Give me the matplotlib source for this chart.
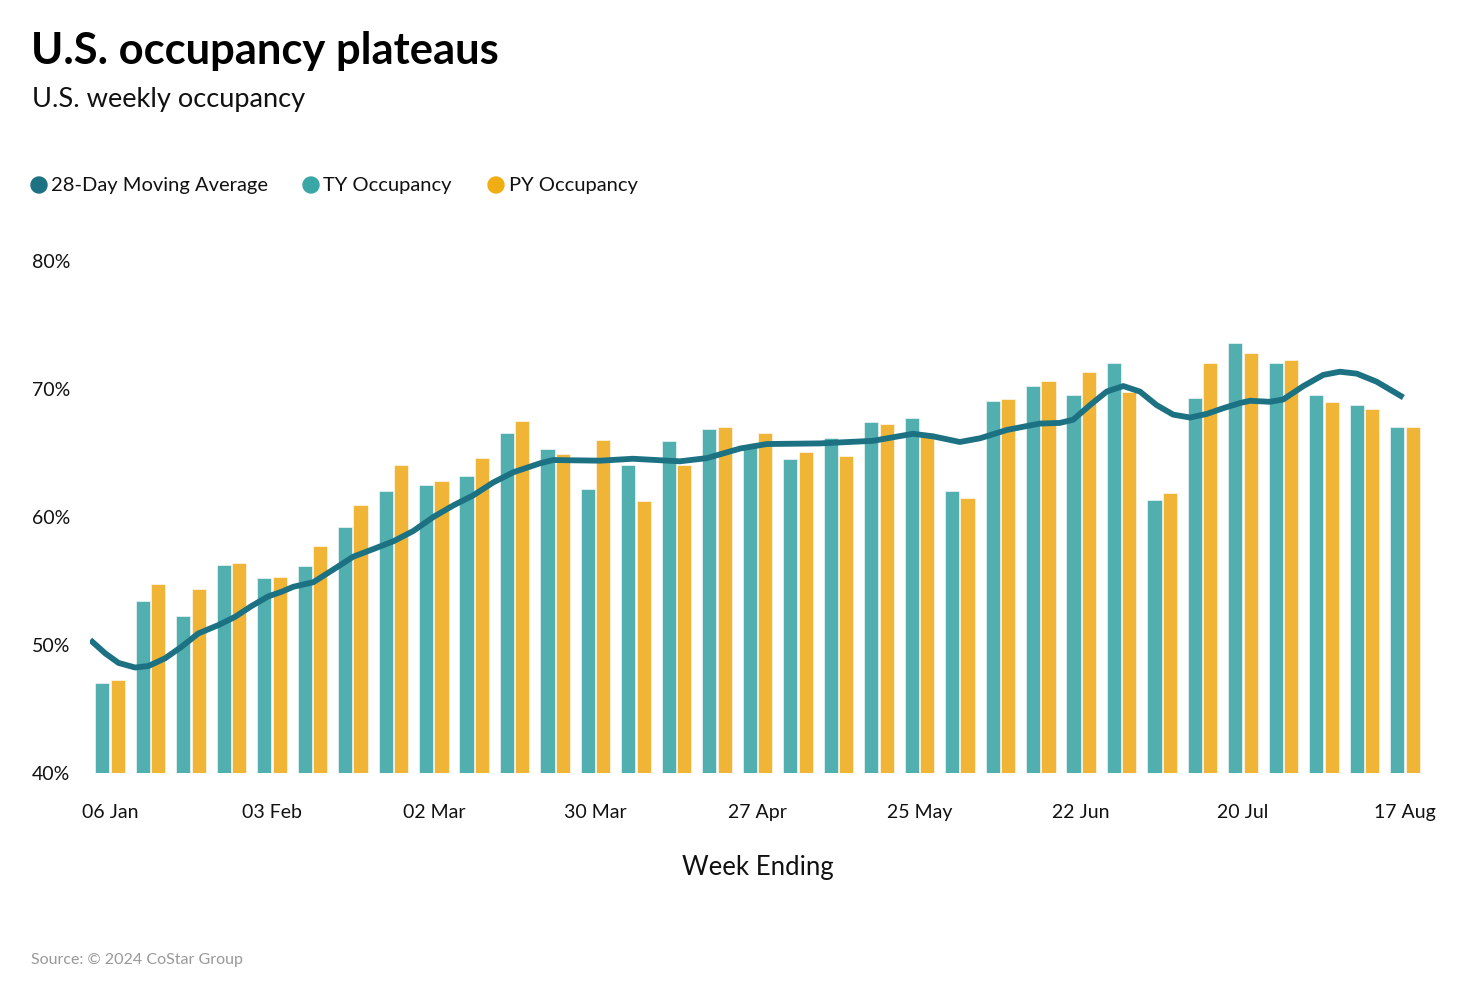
import matplotlib
matplotlib.use("Agg")
import matplotlib.pyplot as plt
import numpy as np

weeks = ["06 Jan", "13 Jan", "20 Jan", "27 Jan", "03 Feb", "10 Feb", "17 Feb", "24 Feb",
         "02 Mar", "09 Mar", "16 Mar", "23 Mar", "30 Mar", "06 Apr", "13 Apr", "20 Apr",
         "27 Apr", "04 May", "11 May", "18 May", "25 May", "01 Jun", "08 Jun", "15 Jun",
         "22 Jun", "29 Jun", "06 Jul", "13 Jul", "20 Jul", "27 Jul", "03 Aug", "10 Aug", "17 Aug"]

ty_occ = [47.0, 53.4, 52.3, 56.25, 55.2, 56.2, 59.2, 62.0, 62.5, 63.2, 66.6, 65.3,
          62.2, 64.1, 65.9, 66.9, 65.5, 64.5, 66.2, 67.4, 67.7, 62.0, 69.1, 70.2,
          69.5, 72.0, 61.3, 69.3, 73.6, 72.0, 69.5, 68.75, 67.0]
py_occ = [47.3, 54.8, 54.4, 56.4, 55.3, 57.7, 60.9, 64.1, 62.8, 64.6, 67.5, 64.9,
          66.0, 61.25, 64.1, 67.0, 66.6, 65.1, 64.8, 67.3, 66.6, 61.5, 69.2, 70.6,
          71.3, 69.8, 61.9, 72.0, 72.8, 72.3, 69.0, 68.4, 67.0]

# 28-day moving average, positions in week units (0 = 06 Jan)
ma_pos = [-0.49, -0.12, 0.21, 0.62, 0.95, 1.36, 1.77, 2.18, 2.68, 3.09, 3.50, 3.91, 4.24,
          4.53, 5.02, 5.52, 6.01, 6.51, 7.00, 7.49, 7.99, 8.48, 8.98, 9.47, 9.97,
          10.63, 10.95, 12.11, 12.92, 14.08, 14.75, 15.57, 16.23, 17.54, 18.85, 19.84,
          20.34, 21.00, 21.50, 22.16, 22.81, 22.98, 23.47, 23.80, 24.22, 24.63, 25.04,
          25.45, 25.86, 26.27, 26.69, 27.10, 27.51, 27.92, 28.17, 28.66, 28.99, 29.49,
          29.98, 30.39, 30.81, 31.30, 31.96]
ma_val = [50.4, 49.35, 48.6, 48.24, 48.36, 48.96, 49.87, 50.9, 51.56, 52.2, 53.05, 53.8, 54.16,
          54.55, 54.9, 55.9, 56.9, 57.5, 58.1, 58.9, 60.0, 60.9, 61.7, 62.7, 63.5,
          64.2, 64.45, 64.4, 64.55, 64.35, 64.6, 65.35, 65.7, 65.75, 65.95, 66.5,
          66.3, 65.86, 66.15, 66.8, 67.2, 67.3, 67.35, 67.6, 68.75, 69.8, 70.23,
          69.8, 68.75, 68.0, 67.77, 68.05, 68.5, 68.9, 69.08, 69.0, 69.18, 70.23,
          71.1, 71.35, 71.2, 70.57, 69.34]

yticks = [40, 50, 60, 70, 80]
xtick_idx = [0, 4, 8, 12, 16, 20, 24, 28, 32]

C_MA = "#1C7282"
C_TY = "#52AFAF"
C_PY = "#F0B537"
C_TY_L = "#3AA6A6"
C_PY_L = "#F0AE14"

plt.rcParams['font.family'] = ['Lato', 'DejaVu Sans']

fig = plt.figure(figsize=(14.74, 9.86), dpi=100)
ax = fig.add_axes([89.8 / 1474, (986 - 773) / 986, 1335.4 / 1474, 512 / 986])

x = np.arange(len(weeks))
bw = 0.35
ax.bar(x - 0.19, ty_occ, width=bw, color=C_TY, edgecolor="white", linewidth=0.4, zorder=2)
ax.bar(x + 0.19, py_occ, width=bw, color=C_PY, edgecolor="white", linewidth=0.4, zorder=2)
ax.plot(ma_pos, ma_val, color=C_MA, linewidth=4.2, solid_capstyle="butt",
        solid_joinstyle="round", zorder=3)

ax.set_xlim(-0.5, 32.5)
ax.set_ylim(40, 80)
for s in ax.spines.values():
    s.set_visible(False)
ax.set_yticks(yticks)
ax.set_yticklabels([f"{v}%" for v in yticks])
for lab in ax.get_yticklabels():
    lab.set_ha("left")
ax.tick_params(axis="y", length=0, pad=41.5, labelsize=14, labelcolor="#111111")
ax.set_xticks(xtick_idx)
ax.set_xticklabels([weeks[i] for i in xtick_idx])
ax.tick_params(axis="x", length=0, pad=22.5, labelsize=14, labelcolor="#111111")

fig.text(758 / 1474, 1 - 867 / 986, "Week Ending", ha="center", va="center",
         fontsize=18.5, color="#111111")

fig.text(31 / 1474, 1 - 51 / 986, "U.S. occupancy plateaus", ha="left", va="center",
         fontsize=31.3, fontweight="bold", color="#000000")
fig.text(32 / 1474, 1 - 99 / 986, "U.S. weekly occupancy", ha="left", va="center",
         fontsize=19.6, color="#111111")

legend_items = [("28-Day Moving Average", C_MA, 39, 51),
                ("TY Occupancy", C_TY_L, 311, 323),
                ("PY Occupancy", C_PY_L, 496, 509)]
for label, col, cx, tx in legend_items:
    fig.patches.append(matplotlib.patches.Ellipse((cx / 1474, 1 - 185 / 986), 16 / 1474, 16 / 986,
                                                  transform=fig.transFigure, color=col))
    fig.text(tx / 1474, 1 - 185 / 986, label, ha="left", va="center", fontsize=14.5,
             color="#111111")

fig.text(31 / 1474, 1 - 960 / 986, "Source: © 2024 CoStar Group", ha="left", va="center",
         fontsize=11.5, color="#999999")

fig.savefig("out.png", dpi=100, facecolor="white")
